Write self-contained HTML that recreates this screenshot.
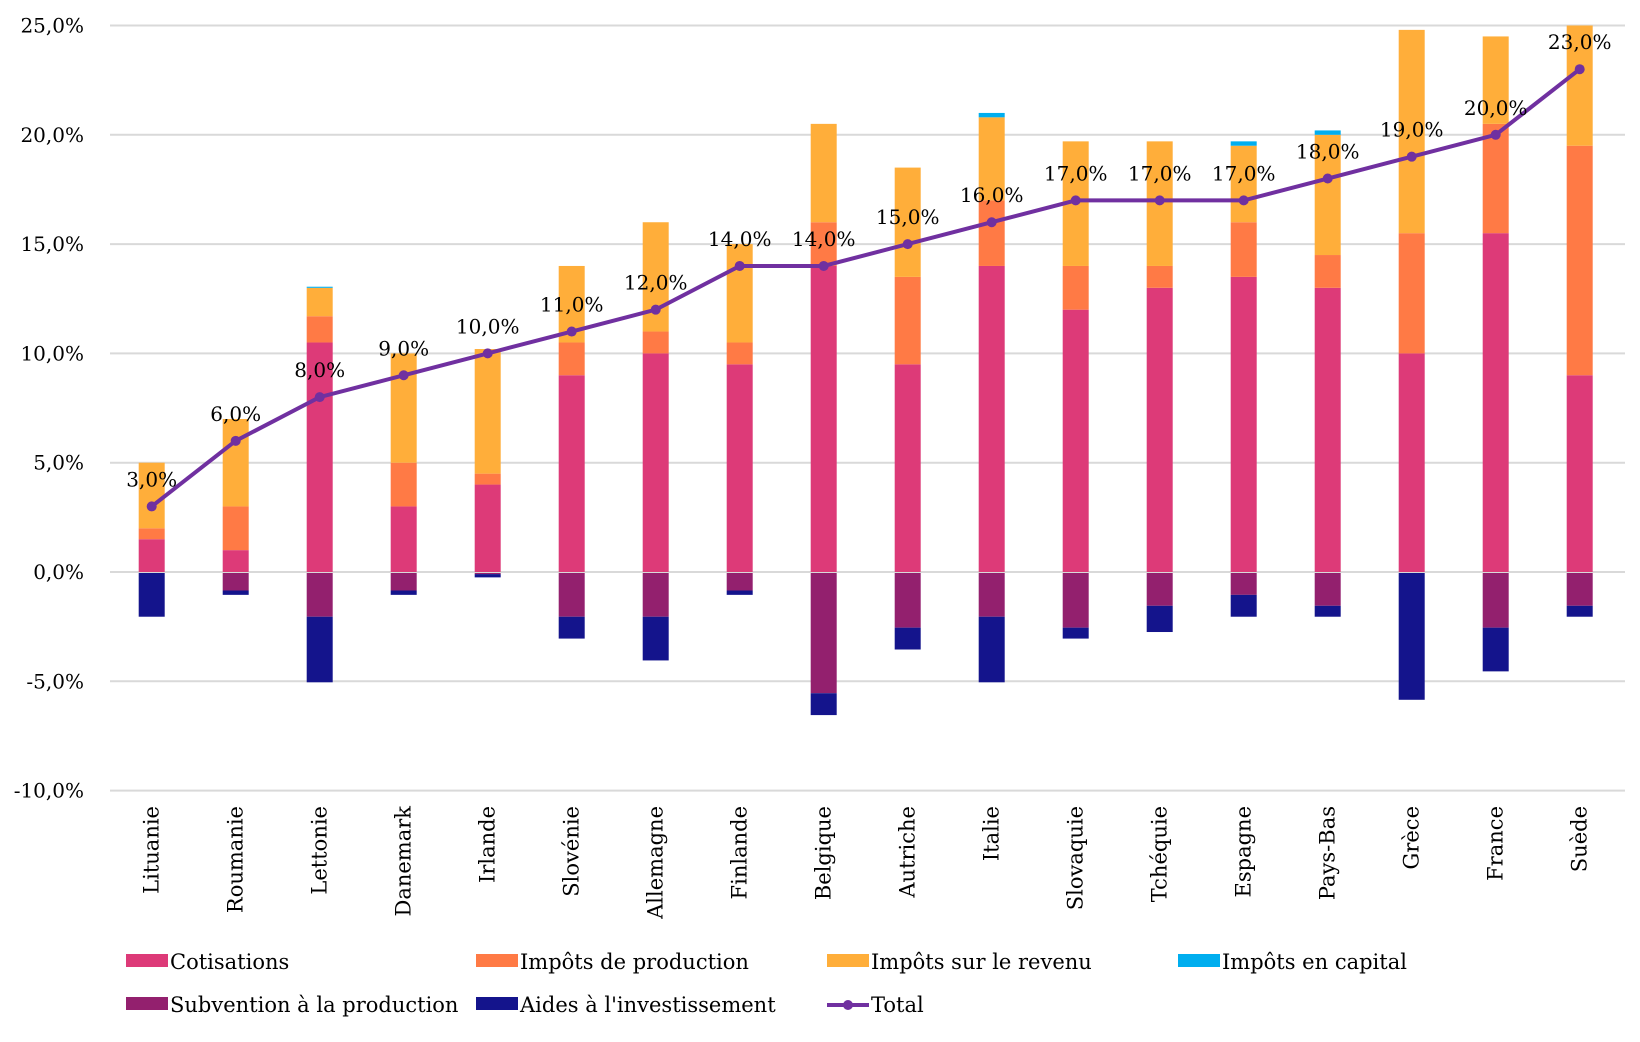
<!DOCTYPE html>
<html><head><meta charset="utf-8"><style>
body{margin:0;background:#fff;}
svg text{font-family:"DejaVu Serif",serif;fill:#000;}
</style></head><body>
<svg id="chart" width="1640" height="1037" xmlns="http://www.w3.org/2000/svg"></svg>
<script>
const categories=["Lituanie","Roumanie","Lettonie","Danemark","Irlande","Slovénie","Allemagne","Finlande","Belgique","Autriche","Italie","Slovaquie","Tchéquie","Espagne","Pays-Bas","Grèce","France","Suède"];
const cotisations=[1.5,1,10.5,3,4,9,10,9.5,14,9.5,14,12,13,13.5,13,10,15.5,9];
const production=[0.5,2,1.2,2,0.5,1.5,1,1,2,4,3,2,1,2.5,1.5,5.5,5,10.5];
const revenu=[3,4,1.3,5,5.7,3.5,5,4.5,4.5,5,3.8,5.7,5.7,3.5,5.5,9.3,4,5.5];
const capital=[0,0,0.05,0,0,0,0,0,0,0,0.2,0,0,0.2,0.2,0,0,0];
const subvention=[0,-0.8,-2,-0.8,-0.05,-2,-2,-0.8,-5.5,-2.5,-2,-2.5,-1.5,-1,-1.5,0,-2.5,-1.5];
const aides=[-2,-0.2,-3,-0.2,-0.15,-1,-2,-0.2,-1,-1,-3,-0.5,-1.2,-1,-0.5,-5.8,-2,-0.5];
const total=[3,6,8,9,10,11,12,14,14,15,16,17,17,17,18,19,20,23];
const yTicks=[-10,-5,0,5,10,15,20,25];
const NS="http://www.w3.org/2000/svg";
const svg=document.getElementById('chart');
const y=v=>572-v*21.86;
const x=i=>151.7+i*84;
function el(t,a,p){const e=document.createElementNS(NS,t);for(const k in a)e.setAttribute(k,a[k]);(p||svg).appendChild(e);return e;}
const fmt=v=>v.toFixed(1).replace('.',',')+'%';
yTicks.forEach(t=>{
  const l=el('line',{x1:110,x2:1625,y1:y(t),y2:y(t),stroke:'#d9d9d9','stroke-width':2});
  
  
  const tx=el('text',{x:84,y:y(t)+7,'text-anchor':'end','font-size':20});
  tx.textContent=fmt(t);
  
  
});
const posSeries=[[cotisations,'#DD3A78','cotisations'],[production,'#FF7A45','production'],[revenu,'#FFAE3A','revenu'],[capital,'#00AEEF','capital']];
const negSeries=[[subvention,'#93206E','subvention'],[aides,'#14148C','aides']];
categories.forEach((c,i)=>{
  let base=0;
  posSeries.forEach(([arr,col,n])=>{const v=arr[i];if(v<=0)return;
    const r=el('rect',{x:x(i)-13,y:y(base+v),width:26,height:y(base)-y(base+v),fill:col});
    
    
    base+=v;});
  base=0;
  negSeries.forEach(([arr,col,n])=>{const v=arr[i];if(v>=0)return;
    const r=el('rect',{x:x(i)-13,y:y(base)+1,width:26,height:y(base+v)-y(base),fill:col});
    
    
    base+=v;});
  const t=el('text',{transform:`translate(${x(i)+7},806) rotate(-90)`,'text-anchor':'end','font-size':21});
  t.textContent=c;
  
  
});
const pl=el('polyline',{points:total.map((v,i)=>x(i)+','+y(v)).join(' '),fill:'none',stroke:'#7030A0','stroke-width':4});


total.forEach((v,i)=>{
  const c=el('circle',{cx:x(i),cy:y(v),r:5,fill:'#7030A0'});
  
  
  const t=el('text',{x:x(i),y:y(v)-20,'text-anchor':'middle','font-size':20});
  t.textContent=fmt(v);
  
  
});
const legend=[['Cotisations','#DD3A78',126,969],['Impôts de production','#FF7A45',476,969],['Impôts sur le revenu','#FFAE3A',827,969],['Impôts en capital','#00AEEF',1178,969],['Subvention à la production','#93206E',126,1012],["Aides à l'investissement",'#14148C',476,1012]];
legend.forEach(([n,col,lx,ly])=>{
  const g=el('g',{});
  
  
  el('rect',{x:lx,y:ly-15,width:42,height:13,fill:col},g);
  const t=el('text',{x:lx+44,y:ly,'font-size':21},g);t.textContent=n;
});
const g=el('g',{});


el('line',{x1:827,x2:869,y1:1005,y2:1005,stroke:'#7030A0','stroke-width':4},g);
el('circle',{cx:848,cy:1005,r:5,fill:'#7030A0'},g);
const tt=el('text',{x:871,y:1012,'font-size':21},g);tt.textContent='Total';
</script>
</body></html>
